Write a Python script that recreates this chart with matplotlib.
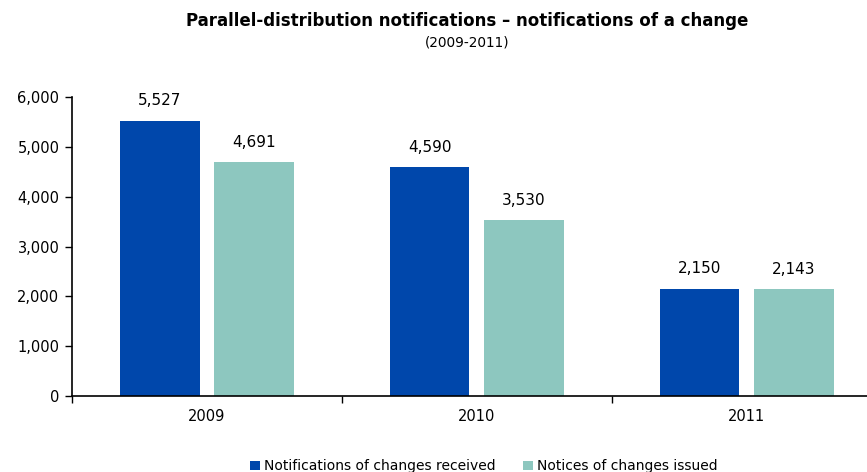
import numpy as np
import matplotlib.pyplot as plt
from matplotlib.ticker import FuncFormatter

years = ['2009', '2010', '2011']
received = [5527, 4590, 2150]
issued = [4691, 3530, 2143]
series_names = ['Notifications of changes received', 'Notices of changes issued']

blue = '#0047AB'
teal = '#8DC7BF'

plt.rcParams['font.family'] = 'DejaVu Sans'
fig = plt.figure(figsize=(8.67, 4.72), dpi=100)
ax = fig.add_axes([0.083, 0.161, 0.934, 0.633])

x = np.arange(len(years))
w = 0.295
b1 = ax.bar(x - 0.175, received, w, color=blue, label=series_names[0])
b2 = ax.bar(x + 0.175, issued, w, color=teal, label=series_names[1])

for bars in (b1, b2):
    for r in bars:
        ax.text(r.get_x() + r.get_width() / 2, r.get_height() + 250,
                f'{r.get_height():,.0f}', ha='center', va='bottom', fontsize=11)

ax.set_xlim(-0.5, 2.5)
ax.set_ylim(0, 6000)
ax.set_yticks(range(0, 6001, 1000))
ax.yaxis.set_major_formatter(FuncFormatter(lambda v, p: f'{v:,.0f}'))
ax.set_xticks(x)
ax.set_xticklabels(years)
ax.set_xticks([-0.5, 0.5, 1.5, 2.5], minor=True)
ax.tick_params(axis='x', which='major', length=0, pad=9, labelsize=10.5)
ax.tick_params(axis='x', which='minor', length=5, direction='out', width=1)
ax.tick_params(axis='y', length=5, direction='out', width=1, labelsize=10.5, pad=4)
for s in ('top', 'right'):
    ax.spines[s].set_visible(False)
for s in ('left', 'bottom'):
    ax.spines[s].set_linewidth(1.2)

fig.text(0.539, 0.955, 'Parallel-distribution notifications \u2013 notifications of a change',
         ha='center', va='center', fontsize=12, fontweight='bold')
fig.text(0.539, 0.909, '(2009-2011)', ha='center', va='center', fontsize=9.8)

fig.legend(handles=[b1, b2], loc='center', bbox_to_anchor=(0.558, 0.012), ncol=2,
           frameon=False, fontsize=10, handlelength=0.7, handleheight=0.7,
           handletextpad=0.3, columnspacing=2.0)

fig.savefig('out.png', dpi=100)
